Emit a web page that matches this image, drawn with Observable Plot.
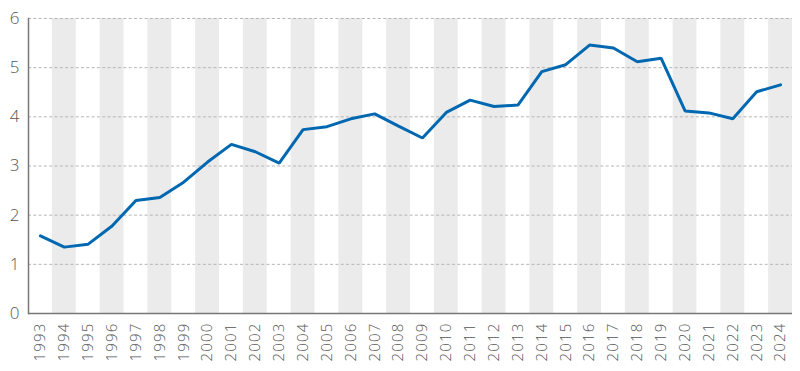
<!DOCTYPE html>
<html><head><meta charset="utf-8">
<script src="https://cdn.jsdelivr.net/npm/d3@7"></script>
<script src="https://cdn.jsdelivr.net/npm/@observablehq/plot@0.6"></script>
<style>
body{margin:0;background:#fff;} svg{display:block}
</style>
</head><body><div id="chart"></div>
<script>
const years = ["1993","1994","1995","1996","1997","1998","1999","2000","2001","2002","2003","2004","2005","2006","2007","2008","2009","2010","2011","2012","2013","2014","2015","2016","2017","2018","2019","2020","2021","2022","2023","2024"];
const values = [1.58,1.35,1.41,1.78,2.30,2.36,2.67,3.08,3.44,3.29,3.06,3.74,3.80,3.96,4.06,3.81,3.57,4.09,4.34,4.21,4.24,4.92,5.06,5.46,5.40,5.12,5.19,4.12,4.08,3.96,4.51,4.65];
const yTicks = [0,1,2,3,4,5,6];

const data = years.map((y,i)=>({year:y, value:values[i]}));
const bands = years.filter((y,i)=>i%2===1);

const chart = Plot.plot({
  width: 800, height: 371,
  marginLeft: 28, marginRight: 8, marginTop: 18, marginBottom: 58,
  style: {fontFamily: "'Open Sans', sans-serif", color: "#555", background: "#fff"},
  x: {type: "band", domain: years, padding: 0, round: false, label: null},
  y: {domain: [0,6], label: null},
  marks: [
    Plot.barY(bands, {x: d=>d, y1: 0, y2: 6, fill: "#ebebeb"}),
    Plot.ruleY(yTicks.filter(t=>t>0), {stroke: "#b5b5b5", strokeDasharray: "3,2.3", strokeWidth: 1}),
    Plot.axisY(yTicks, {tickSize: 0, tickPadding: 9, fill: "#555"}),
    Plot.axisX({tickSize: 0, tickPadding: 9, tickRotate: -90, fill: "#555"}),
    Plot.frame({anchor: "left", stroke: "#777", strokeWidth: 1.5}),
    Plot.ruleY([0], {stroke: "#777", strokeWidth: 1.5}),
    Plot.line(data, {x: "year", y: "value", stroke: "#0068b1", strokeWidth: 3, strokeLinejoin: "miter"})
  ]
});
document.getElementById("chart").appendChild(chart);
d3.select(chart).selectAll("text").each(function(){
  const t = this.textContent;
  if (t.length === 1) {
    this.style.setProperty("font-size", "17px", "important");
  } else {
    this.style.setProperty("font-size", "15px", "important");
    this.style.setProperty("letter-spacing", "1.2px", "important");
  }
  this.style.setProperty("font-weight", "300", "important");
});
</script>
</body></html>
